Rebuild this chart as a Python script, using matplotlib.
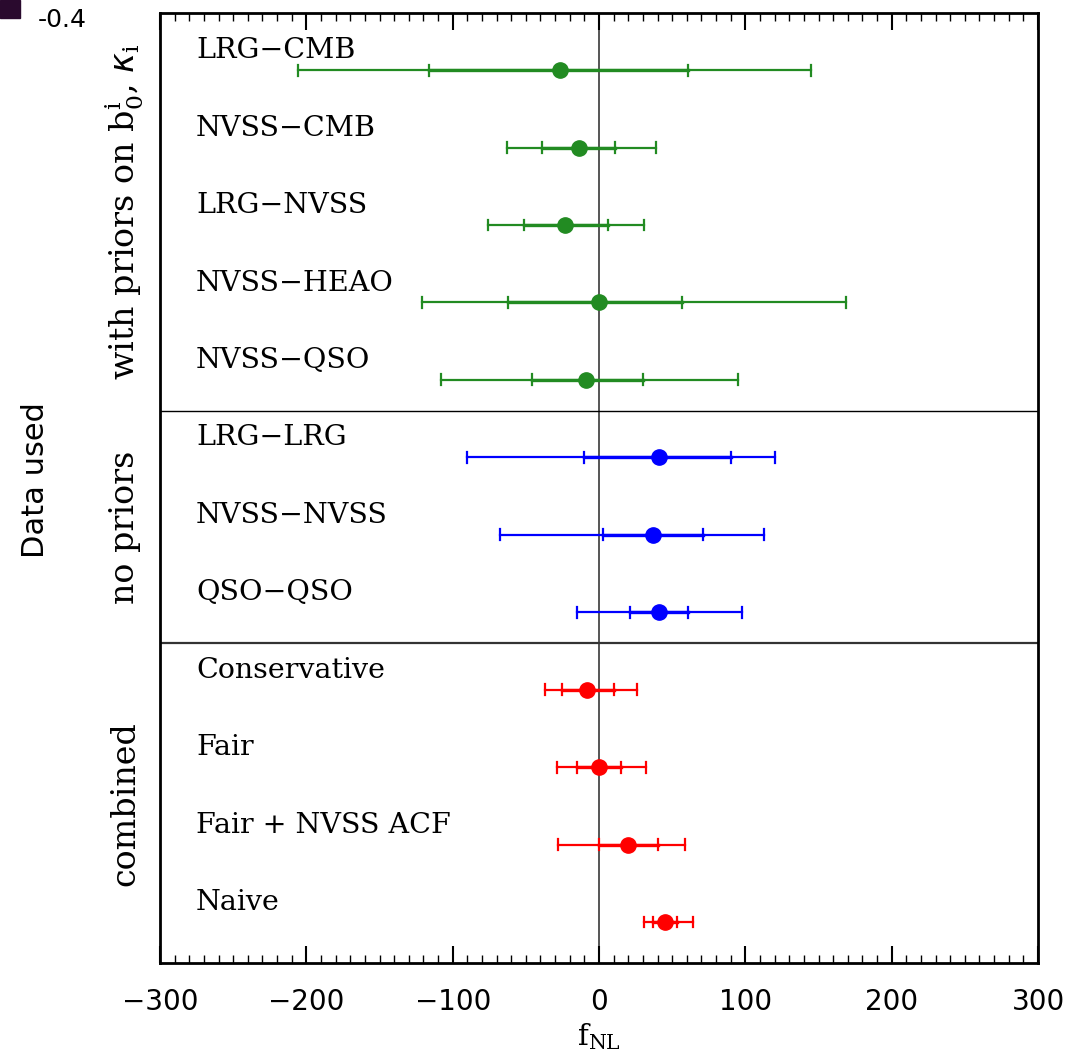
import matplotlib
matplotlib.use("Agg")
import matplotlib.pyplot as plt
import numpy as np
from matplotlib.patches import Rectangle
from matplotlib.ticker import MultipleLocator
import matplotlib.transforms as mtransforms

labels = ["LRG\u2212CMB", "NVSS\u2212CMB", "LRG\u2212NVSS", "NVSS\u2212HEAO", "NVSS\u2212QSO",
          "LRG\u2212LRG", "NVSS\u2212NVSS", "QSO\u2212QSO",
          "Conservative", "Fair", "Fair + NVSS ACF", "Naive"]
center  = [-27, -14, -23, 0, -9,   41, 37, 41,   -8, 0, 20, 45]
lo1     = [-116, -39, -51, -62, -46,   -10, 3, 21,   -25, -15, 0, 37]
hi1     = [61, 11, 6, 57, 30,   90, 71, 61,   10, 15, 40, 53]
lo2     = [-206, -63, -76, -121, -108,   -90, -68, -15,   -37, -29, -28, 31]
hi2     = [145, 39, 31, 169, 95,   120, 113, 98,   26, 32, 59, 64]
group   = [0, 0, 0, 0, 0, 1, 1, 1, 2, 2, 2, 2]
group_names = [r"with priors on $\mathregular{b_0^i}$, $\kappa_\mathregular{i}$", "no priors", "combined"]
group_colors = ["#228B22", "#0000FF", "#FF0000"]
xticks = [-300, -200, -100, 0, 100, 200, 300]

fig = plt.figure(figsize=(10.74, 10.60), dpi=100)
ax = fig.add_axes([0.149, 0.0915, 0.8175, 0.8962])

y = np.arange(len(labels))
ytop, ybot = -0.737, 11.53
ax.set_xlim(-300, 300)
ax.set_ylim(ybot, ytop)

ax.axvline(0, color="#555555", lw=1.4, zorder=1)

for i in range(len(labels)):
    c = group_colors[group[i]]
    ax.plot([lo2[i], hi2[i]], [y[i], y[i]], color=c, lw=1.6, zorder=2)
    ax.plot([lo1[i], hi1[i]], [y[i], y[i]], color=c, lw=2.4, zorder=2)
    for xv in (lo2[i], hi2[i], lo1[i], hi1[i]):
        ax.plot([xv, xv], [y[i] - 0.07, y[i] + 0.07], color=c, lw=1.6, zorder=2)
    ax.plot(center[i], y[i], "o", color=c, ms=11, zorder=3)
    ax.text(-275.4, y[i] - 0.25, labels[i], family="DejaVu Serif", fontsize=20.5,
            va="center", ha="left")

# group separators and labels
bounds = [ytop]
for g in range(1, len(group_names)):
    first = group.index(g)
    ax.axhline(first - 0.6, color="black" if g == 1 else "#333333", lw=1.0 if g == 1 else 1.6)
    bounds.append(first - 0.6)
bounds.append(ybot)
trans = mtransforms.blended_transform_factory(ax.transAxes, ax.transData)
for g, name in enumerate(group_names):
    ax.text(-0.04, 0.5 * (bounds[g] + bounds[g + 1]), name, transform=trans, rotation=90,
            ha="center", va="center", family="DejaVu Serif", fontsize=24)

ax.set_yticks([])
ax.set_xticks(xticks)
ax.xaxis.set_minor_locator(MultipleLocator(10))
ax.tick_params(axis="x", which="major", direction="in", length=12, width=1.5,
               top=True, bottom=True, labelsize=20, pad=18)
ax.tick_params(axis="x", which="minor", direction="in", length=6, width=1.0,
               top=True, bottom=True)
ax.set_xticklabels([str(t).replace("-", "\u2212") for t in xticks])
for s in ax.spines.values():
    s.set_linewidth(2.0)

ax.set_xlabel(r"$\mathregular{f_{NL}}$", family="DejaVu Serif", fontsize=21, labelpad=4)
fig.text(0.033, 0.547, "Data used", rotation=90, ha="center", va="center", fontsize=22)

# top-left remnant
fig.patches.append(Rectangle((0, 1 - 18 / 1060), 20 / 1074, 18 / 1060,
                             transform=fig.transFigure, color="#2a0a2e", zorder=5))
fig.text(38 / 1074, 1 - 20 / 1060, "-0.4", fontsize=18, ha="left", va="center")

fig.savefig("out.png", dpi=100)
